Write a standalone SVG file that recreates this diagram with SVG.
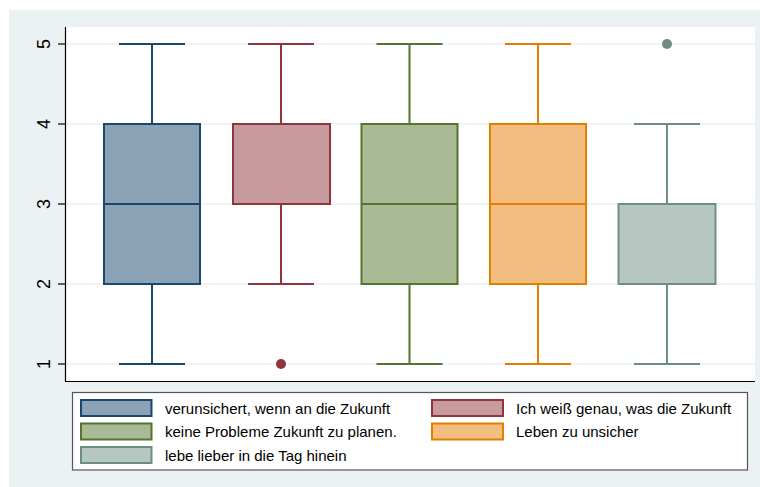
<svg xmlns="http://www.w3.org/2000/svg" width="760" height="487" viewBox="0 0 760 487">
<style>
.grid{stroke:#eaf2f3;stroke-width:1.6}
.tick{font-family:"Liberation Sans",Arial,sans-serif;font-size:18px;fill:#000;text-anchor:middle}
.lt{font-family:"Liberation Sans",Arial,sans-serif;font-size:15px;fill:#000}
.b1{fill:#8ca3b7;stroke:#1a476f}
.b2{fill:#c79a9d;stroke:#90353b}
.b3{fill:#aaba97;stroke:#55752f}
.b4{fill:#f1be7f;stroke:#e37e00}
.b5{fill:#b6c6c1;stroke:#6e8e84}
.box{stroke-width:2}
.w{fill:none;stroke-width:2}
</style>
<rect x="0" y="0" width="760" height="487" fill="#ffffff"/>
<rect x="9" y="10" width="751" height="477" fill="#eaf2f3"/>
<rect x="65" y="27" width="690" height="354" fill="#ffffff"/>
<g id="grid">
<line class="grid" x1="66" y1="44" x2="755" y2="44"/>
<line class="grid" x1="66" y1="124" x2="755" y2="124"/>
<line class="grid" x1="66" y1="204" x2="755" y2="204"/>
<line class="grid" x1="66" y1="284" x2="755" y2="284"/>
<line class="grid" x1="66" y1="364" x2="755" y2="364"/>
</g>
<g id="axes" stroke="#000" stroke-width="1.2">
<line x1="65.5" y1="27" x2="65.5" y2="381.5"/>
<line x1="65" y1="381.5" x2="755" y2="381.5"/>
<line x1="58" y1="44" x2="65" y2="44"/>
<line x1="58" y1="124" x2="65" y2="124"/>
<line x1="58" y1="204" x2="65" y2="204"/>
<line x1="58" y1="284" x2="65" y2="284"/>
<line x1="58" y1="364" x2="65" y2="364"/>
</g>
<g id="ticklabels">
<text class="tick" transform="translate(50,44) rotate(-90)">5</text>
<text class="tick" transform="translate(50,124) rotate(-90)">4</text>
<text class="tick" transform="translate(50,204) rotate(-90)">3</text>
<text class="tick" transform="translate(50,284) rotate(-90)">2</text>
<text class="tick" transform="translate(50,364) rotate(-90)">1</text>
</g>
<g id="box1">
<path class="w" stroke="#1a476f" d="M152,124V44M119,44H185M152,284V364M119,364H185"/>
<rect class="b1 box" x="104" y="124" width="96" height="160"/>
<line x1="104" y1="204" x2="200" y2="204" stroke="#1a476f" stroke-width="2"/>
</g>
<g id="box2">
<path class="w" stroke="#90353b" d="M281,124V44M248,44H314M281,204V284M248,284H314"/>
<rect class="b2 box" x="233" y="124" width="97" height="80"/>
<line x1="233" y1="124" x2="330" y2="124" stroke="#90353b" stroke-width="2"/>
<circle cx="281" cy="364" r="5" fill="#90353b"/>
</g>
<g id="box3">
<path class="w" stroke="#55752f" d="M409.5,124V44M376.5,44H442.5M409.5,284V364M376.5,364H442.5"/>
<rect class="b3 box" x="361.5" y="124" width="96" height="160"/>
<line x1="361.5" y1="204" x2="457.5" y2="204" stroke="#55752f" stroke-width="2"/>
</g>
<g id="box4">
<path class="w" stroke="#e37e00" d="M538,124V44M505,44H571M538,284V364M505,364H571"/>
<rect class="b4 box" x="490" y="124" width="96" height="160"/>
<line x1="490" y1="204" x2="586" y2="204" stroke="#e37e00" stroke-width="2"/>
</g>
<g id="box5">
<path class="w" stroke="#6e8e84" d="M667,204V124M634,124H700M667,284V364M634,364H700"/>
<rect class="b5 box" x="618.5" y="204" width="97" height="80"/>
<line x1="618.5" y1="284" x2="715.5" y2="284" stroke="#6e8e84" stroke-width="2"/>
<circle cx="667" cy="44" r="5" fill="#6e8e84"/>
</g>
<g id="legend">
<rect x="72.5" y="392.5" width="675" height="77.5" fill="#ffffff" stroke="#555555" stroke-width="1.2"/>
<rect class="b1 box" x="81" y="400" width="70.5" height="16"/>
<text class="lt" x="165" y="413.5">verunsichert, wenn an die Zukunft</text>
<rect class="b2 box" x="432" y="400" width="71" height="16"/>
<text class="lt" x="516" y="413.5">Ich weiß genau, was die Zukunft</text>
<rect class="b3 box" x="81" y="423.5" width="70.5" height="16"/>
<text class="lt" x="165" y="437">keine Probleme Zukunft zu planen.</text>
<rect class="b4 box" x="432" y="423.5" width="71" height="16"/>
<text class="lt" x="516" y="437">Leben zu unsicher</text>
<rect class="b5 box" x="81" y="447" width="70.5" height="16"/>
<text class="lt" x="165" y="460.5">lebe lieber in die Tag hinein</text>
</g>
</svg>
